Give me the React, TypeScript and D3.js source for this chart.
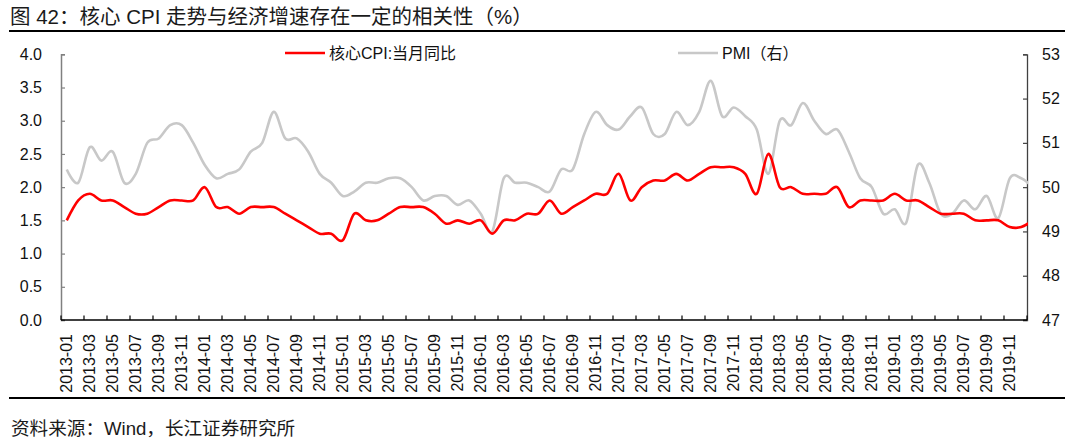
import { useEffect, useRef } from 'react'
import * as d3 from 'd3'

// monthly categories, 2013-01 .. 2020-01 (the last one falls past the right axis)
const years = [2013, 2014, 2015, 2016, 2017, 2018, 2019]
const months: string[] = [
  ...years.flatMap(y => d3.range(1, 13).map(m => `${y}-${String(m).padStart(2, '0')}`)),
  '2020-01'
]

// 核心CPI:当月同比 (%), left axis
const coreCpi = [
  1.5, 1.8, 1.9, 1.8, 1.8, 1.7, 1.6, 1.6, 1.7, 1.8, 1.8, 1.8,
  2.0, 1.7, 1.7, 1.6, 1.7, 1.7, 1.7, 1.6, 1.5, 1.4, 1.3, 1.3,
  1.2, 1.6, 1.5, 1.5, 1.6, 1.7, 1.7, 1.7, 1.6, 1.45, 1.5, 1.45,
  1.5, 1.3, 1.5, 1.5, 1.6, 1.6, 1.8, 1.6, 1.7, 1.8, 1.9, 1.9,
  2.2, 1.8, 2.0, 2.1, 2.1, 2.2, 2.1, 2.2, 2.3, 2.3, 2.3, 2.2,
  1.9, 2.5, 2.0, 2.0, 1.9, 1.9, 1.9, 2.0, 1.7, 1.8, 1.8, 1.8,
  1.9, 1.8, 1.8, 1.7, 1.6, 1.6, 1.6, 1.5, 1.5, 1.5, 1.4, 1.4,
  1.5
]

// PMI（右）
const pmi = [
  50.4, 50.1, 50.9, 50.6, 50.8, 50.1, 50.3, 51.0, 51.1, 51.4, 51.4, 51.0,
  50.5, 50.2, 50.3, 50.4, 50.8, 51.0, 51.7, 51.1, 51.1, 50.8, 50.3, 50.1,
  49.8, 49.9, 50.1, 50.1, 50.2, 50.2, 50.0, 49.7, 49.8, 49.8, 49.6, 49.7,
  49.4, 49.0, 50.2, 50.1, 50.1, 50.0, 49.9, 50.4, 50.4, 51.2, 51.7, 51.4,
  51.3, 51.6, 51.8, 51.2, 51.2, 51.7, 51.4, 51.7, 52.4, 51.6, 51.8, 51.6,
  51.3, 50.3, 51.5, 51.4, 51.9, 51.5, 51.2, 51.3, 50.8, 50.2, 50.0, 49.4,
  49.5, 49.2, 50.5, 50.1, 49.4, 49.4, 49.7, 49.5, 49.8, 49.3, 50.2, 50.2,
  50.0
]

const leftTicks = [0, 0.5, 1, 1.5, 2, 2.5, 3, 3.5, 4]
const rightTicks = [47, 48, 49, 50, 51, 52, 53]

const title = '图 42：核心 CPI 走势与经济增速存在一定的相关性（%）'
const source = '资料来源：Wind，长江证券研究所'
const seriesNames = ['核心CPI:当月同比', 'PMI（右）']

const W = 1079
const H = 445
const FONT = 'Arial, "Liberation Sans", "Noto Sans CJK SC", sans-serif'

export default function App() {
  const ref = useRef<SVGSVGElement>(null)

  useEffect(() => {
    if (!ref.current) return
    const svg = d3.select(ref.current)
    svg.selectAll('*').remove()

    const left = 61
    const right = 1027
    const top = 54.3
    const bottom = 320
    const visible = months.length - 1
    const step = (right - left) / visible

    const x = d3.scaleBand<string>()
      .domain(months)
      .range([left, right + step])
      .padding(0)
    const cx = (m: string) => (x(m) ?? 0) + x.bandwidth() / 2

    const yL = d3.scaleLinear().domain([0, 4]).range([bottom, top])
    const yR = d3.scaleLinear().domain([47, 53]).range([bottom, top])

    // title and rules
    svg.append('text')
      .attr('x', 10).attr('y', 24)
      .attr('font-size', 20.5).attr('fill', '#1a1a1a')
      .attr('xml:space', 'preserve')
      .text(title)
    svg.append('line')
      .attr('x1', 9).attr('x2', 1065).attr('y1', 31).attr('y2', 31)
      .attr('stroke', '#000').attr('stroke-width', 2.2)
    svg.append('line')
      .attr('x1', 9).attr('x2', 1065).attr('y1', 398).attr('y2', 398)
      .attr('stroke', '#000').attr('stroke-width', 2.2)
    svg.append('text')
      .attr('x', 11).attr('y', 435)
      .attr('font-size', 18.6).attr('fill', '#1a1a1a')
      .text(source)

    // left axis
    const gl = svg.append('g')
      .attr('transform', `translate(${left},0)`)
      .call(d3.axisLeft(yL).tickValues(leftTicks).tickFormat(d3.format('.1f')).tickSize(-4).tickPadding(19))
    gl.select('.domain').attr('stroke', '#808080').attr('stroke-width', 1.5)
    gl.selectAll('.tick line').attr('stroke', '#808080').attr('stroke-width', 1.2)
    gl.selectAll('.tick text').attr('font-size', 16).attr('fill', '#111').attr('font-family', FONT)

    // right axis
    const gr = svg.append('g')
      .attr('transform', `translate(${right},0)`)
      .call(d3.axisRight(yR).tickValues(rightTicks).tickFormat(d3.format('d')).tickSize(-4).tickPadding(15))
    gr.select('.domain').attr('stroke', '#404040').attr('stroke-width', 1.3)
    gr.selectAll('.tick line').attr('stroke', '#404040').attr('stroke-width', 1.2)
    gr.selectAll('.tick text').attr('font-size', 16).attr('fill', '#111').attr('font-family', FONT)

    // bottom axis: ticks every two months at band edges
    const tickMonths = months.filter((_, i) => i % 2 === 0)
    const gb = svg.append('g')
    gb.append('line')
      .attr('x1', left).attr('x2', right).attr('y1', bottom).attr('y2', bottom)
      .attr('stroke', '#000').attr('stroke-width', 1.5)
    gb.selectAll('line.tk')
      .data(tickMonths)
      .join('line')
      .attr('class', 'tk')
      .attr('x1', d => x(d) ?? 0).attr('x2', d => x(d) ?? 0)
      .attr('y1', bottom).attr('y2', bottom - 4.5)
      .attr('stroke', '#000').attr('stroke-width', 1.2)
    gb.selectAll('text')
      .data(tickMonths.slice(0, -1))
      .join('text')
      .attr('transform', d => `translate(${cx(d)},334) rotate(-90)`)
      .attr('text-anchor', 'end')
      .attr('dy', '0.35em')
      .attr('font-size', 16)
      .attr('fill', '#111')
      .attr('font-family', FONT)
      .text(d => d)

    // series
    svg.append('clipPath').attr('id', 'plot-clip')
      .append('rect')
      .attr('x', left).attr('y', 30).attr('width', right - left + 1).attr('height', bottom - 20)

    const idx = d3.range(months.length)
    const lineCpi = d3.line<number>()
      .x(i => cx(months[i]))
      .y(i => yL(coreCpi[i]))
      .curve(d3.curveCardinal.tension(0))
    const linePmi = d3.line<number>()
      .x(i => cx(months[i]))
      .y(i => yR(pmi[i]))
      .curve(d3.curveCardinal.tension(0))

    const plot = svg.append('g').attr('clip-path', 'url(#plot-clip)')
    plot.append('path')
      .datum(idx)
      .attr('d', linePmi)
      .attr('fill', 'none')
      .attr('stroke', '#c8c8c8')
      .attr('stroke-width', 2.6)
    plot.append('path')
      .datum(idx)
      .attr('d', lineCpi)
      .attr('fill', 'none')
      .attr('stroke', '#ff0000')
      .attr('stroke-width', 2.6)

    // legend
    const legend = [
      { name: seriesNames[0], color: '#ff0000', x0: 285 },
      { name: seriesNames[1], color: '#c8c8c8', x0: 678 }
    ]
    const lg = svg.append('g').selectAll('g').data(legend).join('g')
    lg.append('line')
      .attr('x1', d => d.x0).attr('x2', d => d.x0 + 40)
      .attr('y1', 53).attr('y2', 53)
      .attr('stroke', d => d.color).attr('stroke-width', 2.6)
    lg.append('text')
      .attr('x', d => d.x0 + 44).attr('y', 53).attr('dy', '0.35em')
      .attr('font-size', 16).attr('fill', '#111')
      .text(d => d.name)
  }, [])

  return (
    <svg
      ref={ref}
      width={W}
      height={H}
      style={{ position: 'absolute', left: 0, top: 0, background: '#fff' }}
      fontFamily={FONT}
    />
  )
}
